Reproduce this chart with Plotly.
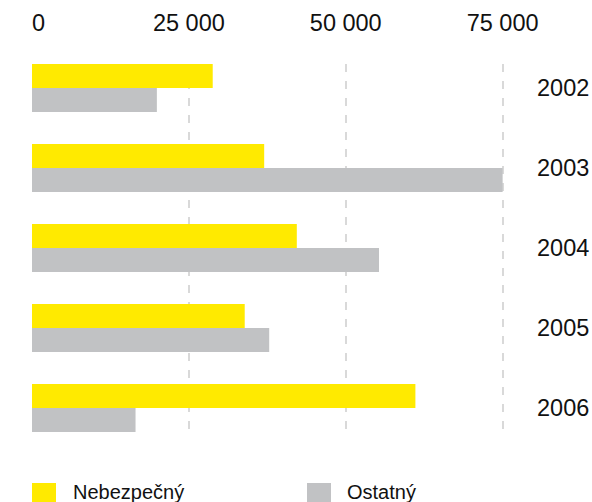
import plotly.graph_objects as go

years = ["2002", "2003", "2004", "2005", "2006"]
nebezpecny = [28800, 37000, 42200, 33900, 61100]
ostatny = [19900, 75000, 55300, 37800, 16500]
series_names = ["Nebezpečný", "Ostatný"]
tick_vals = [0, 25000, 50000, 75000]
tick_text = ["\u20070", "25 000", "50 000", "75 000"]
grid_vals = [25000, 50000, 75000]

YELLOW = "#FFEA00"
GRAY = "#C1C2C4"
FONT = "Liberation Sans"
TXT = "#111111"

W, H = 592, 502
ML, MR, MT, MB = 32, 58, 64, 70
PW, PH = W - ML - MR, H - MT - MB

fig = go.Figure()
fig.add_trace(go.Bar(y=years, x=nebezpecny, name=series_names[0], orientation="h",
                     marker=dict(color=YELLOW, line=dict(width=0)), showlegend=False))
fig.add_trace(go.Bar(y=years, x=ostatny, name=series_names[1], orientation="h",
                     marker=dict(color=GRAY, line=dict(width=0)), showlegend=False))
# helper trace so the overlaid grid axis is rendered
fig.add_trace(go.Scatter(x=[None], y=[None], xaxis="x2", yaxis="y", mode="markers",
                         showlegend=False, hoverinfo="skip"))

def px_x(p):
    return (p - ML) / PW

def px_y(p):
    return (H - MB - p) / PH

shapes = []
annotations = []
legend_items = [(series_names[0], YELLOW, 32, 71), (series_names[1], GRAY, 307, 345)]
for name, col, sx, tx in legend_items:
    shapes.append(dict(type="rect", xref="paper", yref="paper",
                       x0=px_x(sx), x1=px_x(sx + 24), y0=px_y(483), y1=px_y(508),
                       fillcolor=col, line=dict(width=0), layer="above"))
    annotations.append(dict(text=name, xref="paper", yref="paper", x=px_x(tx), y=px_y(492),
                            xanchor="left", yanchor="middle", showarrow=False,
                            font=dict(family=FONT, size=20, color=TXT)))

fig.update_layout(
    width=W, height=H,
    margin=dict(l=ML, r=MR, t=MT, b=MB, pad=0, autoexpand=False),
    paper_bgcolor="white", plot_bgcolor="white",
    barmode="group", bargap=0.4, bargroupgap=0,
    font=dict(family=FONT, size=23.5, color=TXT),
    xaxis=dict(range=[0, 80000], side="top", tickvals=tick_vals, ticktext=tick_text,
               showgrid=False, zeroline=False, showline=False, ticks="", automargin=False,
               ticklabelstandoff=27, tickfont=dict(family=FONT, size=23.5, color=TXT)),
    xaxis2=dict(range=[0, 80000], matches="x", overlaying="x", anchor="y",
                tickvals=grid_vals, showticklabels=False, showgrid=True,
                gridcolor="#D9D9D9", gridwidth=2, griddash="8px,9px",
                zeroline=False, showline=False, ticks="", automargin=False),
    yaxis=dict(range=[4.3, -0.3], side="right", showgrid=False, zeroline=False,
               showline=False, ticks="", ticklabelstandoff=2, automargin=False,
               tickfont=dict(family=FONT, size=23.5, color=TXT)),
    shapes=shapes, annotations=annotations,
)
fig.write_html("out.html")
